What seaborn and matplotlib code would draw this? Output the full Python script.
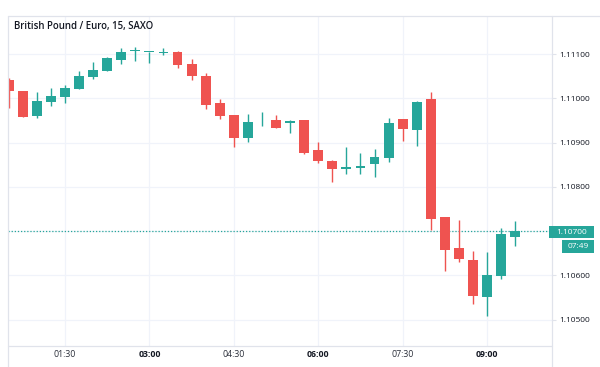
import matplotlib
matplotlib.use("Agg")
import matplotlib.pyplot as plt
from matplotlib.lines import Line2D
from matplotlib.patches import Rectangle
import seaborn as sns
import pandas as pd
import numpy as np

times = ["00:30", "00:45", "01:00", "01:15", "01:30", "01:45", "02:00", "02:15",
         "02:30", "02:45", "03:00", "03:15", "03:30", "03:45", "04:00", "04:15",
         "04:30", "04:45", "05:00", "05:15", "05:30", "05:45", "06:00", "06:15",
         "06:30", "06:45", "07:00", "07:15", "07:30", "07:45", "08:00", "08:15",
         "08:30", "08:45", "09:00", "09:15", "09:30"]
opens = [1.11041, 1.11016, 1.10960, 1.10992, 1.11004, 1.11021, 1.11049, 1.11062,
         1.11086, 1.11106, 1.11104, 1.11103, 1.11104, 1.11077, 1.11050, 1.10989,
         1.10962, 1.10910, 1.10950, 1.10951, 1.10945, 1.10951, 1.10883, 1.10858,
         1.10840, 1.10842, 1.10852, 1.10866, 1.10953, 1.10928, 1.10998, 1.10731,
         1.10661, 1.10635, 1.10552, 1.10599, 1.10688]
highs = [1.11046, 1.11017, 1.11015, 1.11023, 1.11030, 1.11062, 1.11083, 1.11093,
         1.11113, 1.11116, 1.11105, 1.11114, 1.11107, 1.11089, 1.11056, 1.10998,
         1.10963, 1.10965, 1.10968, 1.10962, 1.10950, 1.10952, 1.10902, 1.10860,
         1.10889, 1.10876, 1.10886, 1.10955, 1.10954, 1.10995, 1.11015, 1.10732,
         1.10725, 1.10656, 1.10652, 1.10707, 1.10723]
lows = [1.10978, 1.10958, 1.10955, 1.10983, 1.10989, 1.11020, 1.11043, 1.11061,
        1.11077, 1.11084, 1.11079, 1.11098, 1.11068, 1.11041, 1.10975, 1.10953,
        1.10889, 1.10902, 1.10938, 1.10933, 1.10921, 1.10875, 1.10853, 1.10812,
        1.10829, 1.10829, 1.10823, 1.10856, 1.10904, 1.10892, 1.10703, 1.10611,
        1.10630, 1.10536, 1.10509, 1.10591, 1.10667]
closes = [1.11016, 1.10958, 1.10994, 1.11005, 1.11024, 1.11051, 1.11065, 1.11092,
          1.11104, 1.11107, 1.11104, 1.11104, 1.11075, 1.11050, 1.10985, 1.10961,
          1.10910, 1.10947, 1.10951, 1.10934, 1.10949, 1.10876, 1.10859, 1.10840,
          1.10846, 1.10848, 1.10868, 1.10945, 1.10931, 1.10992, 1.10727, 1.10658,
          1.10637, 1.10554, 1.10601, 1.10693, 1.10700]

price_ticks = [1.10500, 1.10600, 1.10700, 1.10800, 1.10900, 1.11000, 1.11100]
time_ticks = ["01:30", "03:00", "04:30", "06:00", "07:30", "09:00"]
title = "British Pound / Euro, 15, SAXO"
last_price = 1.10700
countdown = "07:49"

UP = "#26a69a"
DOWN = "#ef5350"
BORDER = "#e0e3eb"
GRID = "#f0f3fa"
TXT = "#131722"

sns.set_theme(style="white")
plt.rcParams["font.family"] = ["Open Sans", "DejaVu Sans"]

df = pd.DataFrame({"time": times, "open": opens, "high": highs,
                   "low": lows, "close": closes})
df["idx"] = np.arange(len(df))
df["up"] = df["close"] >= df["open"]
df["color"] = np.where(df["up"], UP, DOWN)
df["bottom"] = df[["open", "close"]].min(axis=1)
df["height"] = (df["close"] - df["open"]).abs().clip(lower=0.00002)

W, H = 600, 367
fig = plt.figure(figsize=(6, 3.67), dpi=100)
fig.patch.set_facecolor("white")
ax = fig.add_axes([8 / W, 21 / H, 544 / W, 330 / H])

# wicks
ax.vlines(df["idx"], df["low"], df["high"], colors=df["color"], lw=1.0, zorder=3)
# bodies
ax.bar(df["idx"], df["height"], bottom=df["bottom"], width=0.7,
       color=df["color"], linewidth=0, zorder=4)

# last price dotted line
ax.axhline(last_price, color=UP, lw=0.9, ls=(0, (1, 1.5)), zorder=2)

ax.set_xlim(-0.05, 38.61)
ax.set_ylim(1.104408, 1.111858)

tick_pos = [df.index[df["time"] == t][0] for t in time_ticks]
ax.set_xticks(tick_pos)
ax.set_xticklabels(time_ticks)
for lbl, t in zip(ax.get_xticklabels(), time_ticks):
    if t.endswith(":00"):
        lbl.set_fontweight("bold")
        lbl.set_color(TXT)
    else:
        lbl.set_color("#2a2e39")
ax.tick_params(axis="x", length=0, pad=3, labelsize=6.3)

ax.yaxis.tick_right()
ax.set_yticks(price_ticks)
ax.set_yticklabels([f"{p:.5f}" for p in price_ticks])
ax.tick_params(axis="y", length=3, width=0.8, color=BORDER, pad=2,
               labelsize=6.0, labelcolor=TXT, right=True, left=False)
# the last-price box replaces the 1.10700 label
for lbl, p in zip(ax.get_yticklabels(), price_ticks):
    if abs(p - last_price) < 1e-9:
        lbl.set_visible(False)

ax.grid(True, color=GRID, lw=0.9)
ax.set_axisbelow(True)
for s in ax.spines.values():
    s.set_visible(False)

# frame lines in figure pixel coordinates
def fline(x0, y0, x1, y1):
    fig.add_artist(Line2D([x0 / W, x1 / W], [1 - y0 / H, 1 - y1 / H],
                          transform=fig.transFigure, color=BORDER, lw=0.9))

fline(8, 16, 600, 16)
fline(8, 16, 8, 367)
fline(552, 16, 552, 367)
fline(8, 346, 552, 346)

# title
fig.text(14 / W, 1 - 27 / H, title, fontsize=6.9, fontweight="semibold",
         color=TXT, va="center", ha="left")

# price label boxes
def fbox(x0, y0, x1, y1, text):
    fig.add_artist(Rectangle((x0 / W, 1 - y1 / H), (x1 - x0) / W, (y1 - y0) / H,
                             transform=fig.transFigure, color=UP, lw=0, zorder=5))
    fig.text((x0 + x1) / 2 / W, 1 - (y0 + y1) / 2 / H, text, color="white",
             fontsize=6.0, ha="center", va="center", zorder=6)

fbox(549, 226, 594, 238, f"{last_price:.5f}")
fbox(562, 240, 594, 253, countdown)

fig.savefig("out.png", dpi=100)
